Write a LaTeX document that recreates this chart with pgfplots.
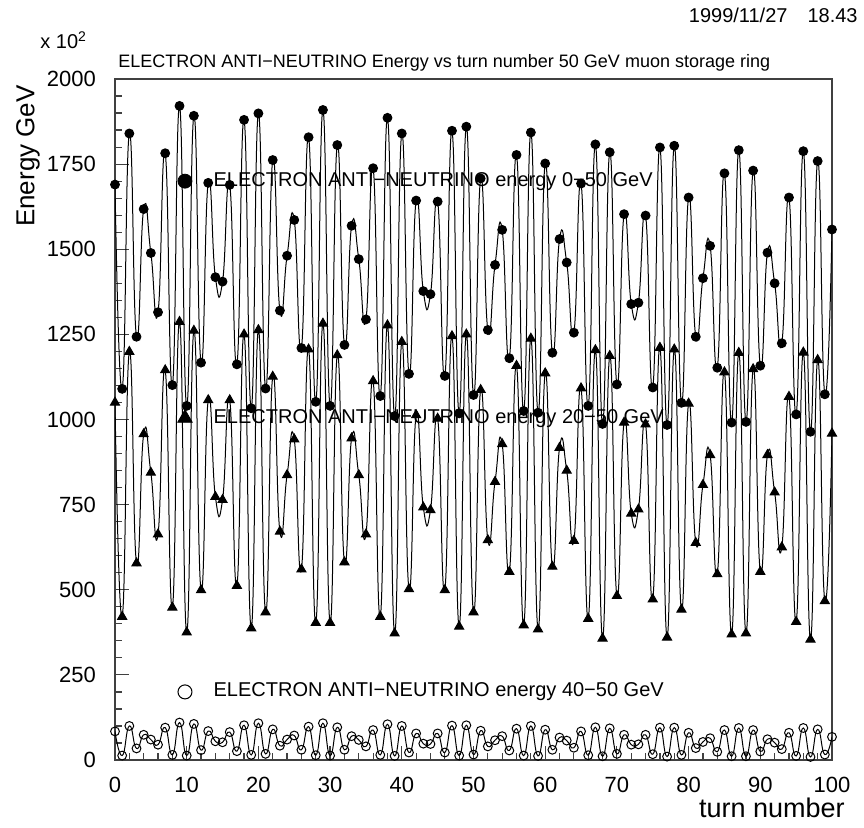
\documentclass[border=0pt]{standalone}
\usepackage{fontspec}
\setmainfont{Liberation Sans}
\usepackage{pgfplots}
\pgfplotsset{compat=1.18}
\usepackage{pgfplotstable}
\pgfplotstableread{
t v
0 1690
1 1090
2 1840
3 1243
4 1618
5 1489
6 1315
7 1782
8 1101
9 1921
10 1040
11 1892
12 1167
13 1695
14 1418
15 1405
16 1689
17 1162
18 1880
19 1033
20 1899
21 1091
22 1762
23 1320
24 1481
25 1586
26 1210
27 1829
28 1052
29 1909
30 1040
31 1806
32 1219
33 1569
34 1471
35 1294
36 1738
37 1069
38 1886
39 1010
40 1840
41 1134
42 1643
43 1377
44 1368
45 1640
46 1128
47 1848
48 1018
49 1860
50 1072
51 1708
52 1263
53 1454
54 1557
55 1180
56 1777
57 1025
58 1843
59 1020
60 1752
61 1196
62 1530
63 1461
64 1255
65 1693
66 1040
67 1808
68 987
69 1785
70 1103
71 1603
72 1339
73 1343
74 1599
75 1094
76 1799
77 984
78 1804
79 1049
80 1652
81 1243
82 1415
83 1510
84 1152
85 1723
86 991
87 1791
88 993
89 1731
90 1158
91 1490
92 1400
93 1224
94 1652
95 1015
96 1788
97 964
98 1759
99 1074
100 1558
}\seriesA
\pgfplotstableread{
t v
0 1050
1 421
2 1199
3 578
4 957
5 844
6 663
7 1145
8 448
9 1287
10 375
11 1261
12 499
13 1057
14 773
15 764
16 1057
17 512
18 1250
19 387
20 1263
21 434
22 1126
23 671
24 837
25 942
26 560
27 1206
28 403
29 1282
30 403
31 1189
32 581
33 945
34 837
35 663
36 1113
37 421
38 1277
39 372
40 1228
41 502
42 1013
43 742
44 734
45 1003
46 499
47 1245
48 392
49 1250
50 434
51 1087
52 646
53 817
54 928
55 553
56 1158
57 396
58 1238
59 384
60 1136
61 568
62 917
63 850
64 644
65 1092
66 415
67 1204
68 357
69 1187
70 482
71 991
72 724
73 736
74 986
75 472
76 1211
77 360
78 1206
79 442
80 1047
81 638
82 808
83 896
84 546
85 1139
86 369
87 1196
88 372
89 1148
90 553
91 896
92 786
93 625
94 1067
95 406
96 1197
97 354
98 1175
99 467
100 959
}\seriesB
\pgfplotstableread{
t v
0 84
1 13
2 100
3 34
4 74
5 60
6 45
7 95
8 15
9 110
10 13
11 106
12 29
13 85
14 55
15 52
16 82
17 26
18 102
19 15
20 108
21 18
22 90
23 42
24 60
25 72
26 30
27 98
28 14
29 108
30 13
31 96
32 30
33 70
34 59
35 40
36 88
37 15
38 105
39 12
40 100
41 22
42 78
43 48
44 47
45 78
46 22
47 101
48 13
49 102
50 16
51 86
52 40
53 58
54 70
55 28
56 92
57 13
58 100
59 12
60 89
61 30
62 66
63 57
64 36
65 84
66 14
67 96
68 11
69 93
70 18
71 74
72 45
73 46
74 74
75 17
76 95
77 10
78 95
79 15
80 80
81 35
82 53
83 64
84 24
85 88
86 11
87 94
88 11
89 88
90 25
91 61
92 51
93 32
94 80
95 12
96 94
97 9
98 90
99 16
100 68
}\seriesC
\begin{document}
\begin{tikzpicture}
\useasboundingbox (0,0) rectangle (432pt,413.5pt);
\begin{axis}[
  at={(57.5pt,33.5pt)}, anchor=south west,
  scale only axis, width=358.5pt, height=340.5pt,
  xmin=0, xmax=100, ymin=0, ymax=2000,
  axis line style={line width=0.7pt, draw=black!75},
  xtick={0,10,...,100}, minor x tick num=4,
  ytick={0,250,...,2000}, minor y tick num=4,
  tick align=inside, xtick pos=bottom, ytick pos=left,
  major tick length=7pt, minor tick length=3.6pt,
  every tick/.style={line width=0.6pt, black!75},
  ticklabel style={font=\fontsize{11}{12}\selectfont},
  /pgf/number format/assume math mode=true,
  /pgf/number format/1000 sep={},
  scaled ticks=false,
  yticklabel style={xshift=-6pt},
  xticklabel style={yshift=-5pt},
  clip=true,
]
\addplot[black, line width=0.5pt, smooth, tension=0.9, mark=*, mark size=2.2pt, mark options={fill=black}] table[x=t,y=v] {\seriesA};
\addplot[black, line width=0.5pt, smooth, tension=0.9, mark=triangle*, mark size=2.6pt, mark options={fill=black}] table[x=t,y=v] {\seriesB};
\addplot[black, line width=0.5pt, smooth, tension=0.9, mark=o, mark size=2.2pt] table[x=t,y=v] {\seriesC};
\addplot[only marks, mark=*, mark size=3.5pt, black, forget plot] coordinates {(9.76,1700)};
\addplot[only marks, mark=triangle*, mark size=4.2pt, black, forget plot] coordinates {(9.76,1004)};
\addplot[only marks, mark=o, mark size=3.5pt, black, line width=0.5pt, forget plot] coordinates {(9.76,200)};
\node[anchor=west, font=\fontsize{10}{12}\selectfont, inner sep=0pt] at (axis cs:13.7,1700) {ELECTRON ANTI−NEUTRINO energy 0−50 GeV};
\node[anchor=west, font=\fontsize{10}{12}\selectfont, inner sep=0pt] at (axis cs:13.7,1004) {ELECTRON ANTI−NEUTRINO energy 20−50 GeV};
\node[anchor=west, font=\fontsize{10}{12}\selectfont, inner sep=0pt] at (axis cs:13.7,200) {ELECTRON ANTI−NEUTRINO energy 40−50 GeV};
\end{axis}
\node[anchor=east, font=\fontsize{10}{12}\selectfont, inner sep=0pt] at (429pt,406pt) {1999/11/27\hspace{10pt}18.43};
\node[anchor=west, font=\fontsize{10}{12}\selectfont, inner sep=0pt] at (20pt,393.5pt) {x 10\textsuperscript{2}};
\node[anchor=west, font=\fontsize{9}{11}\selectfont, inner sep=0pt] at (59pt,382pt) {ELECTRON ANTI−NEUTRINO Energy vs turn number 50 GeV muon storage ring};
\node[rotate=90, font=\fontsize{13}{15}\selectfont, inner sep=0pt] at (14pt,335.5pt) {Energy GeV};
\node[anchor=east, font=\fontsize{13.5}{15}\selectfont, inner sep=0pt] at (422.5pt,9.5pt) {turn number};
\end{tikzpicture}
\end{document}
